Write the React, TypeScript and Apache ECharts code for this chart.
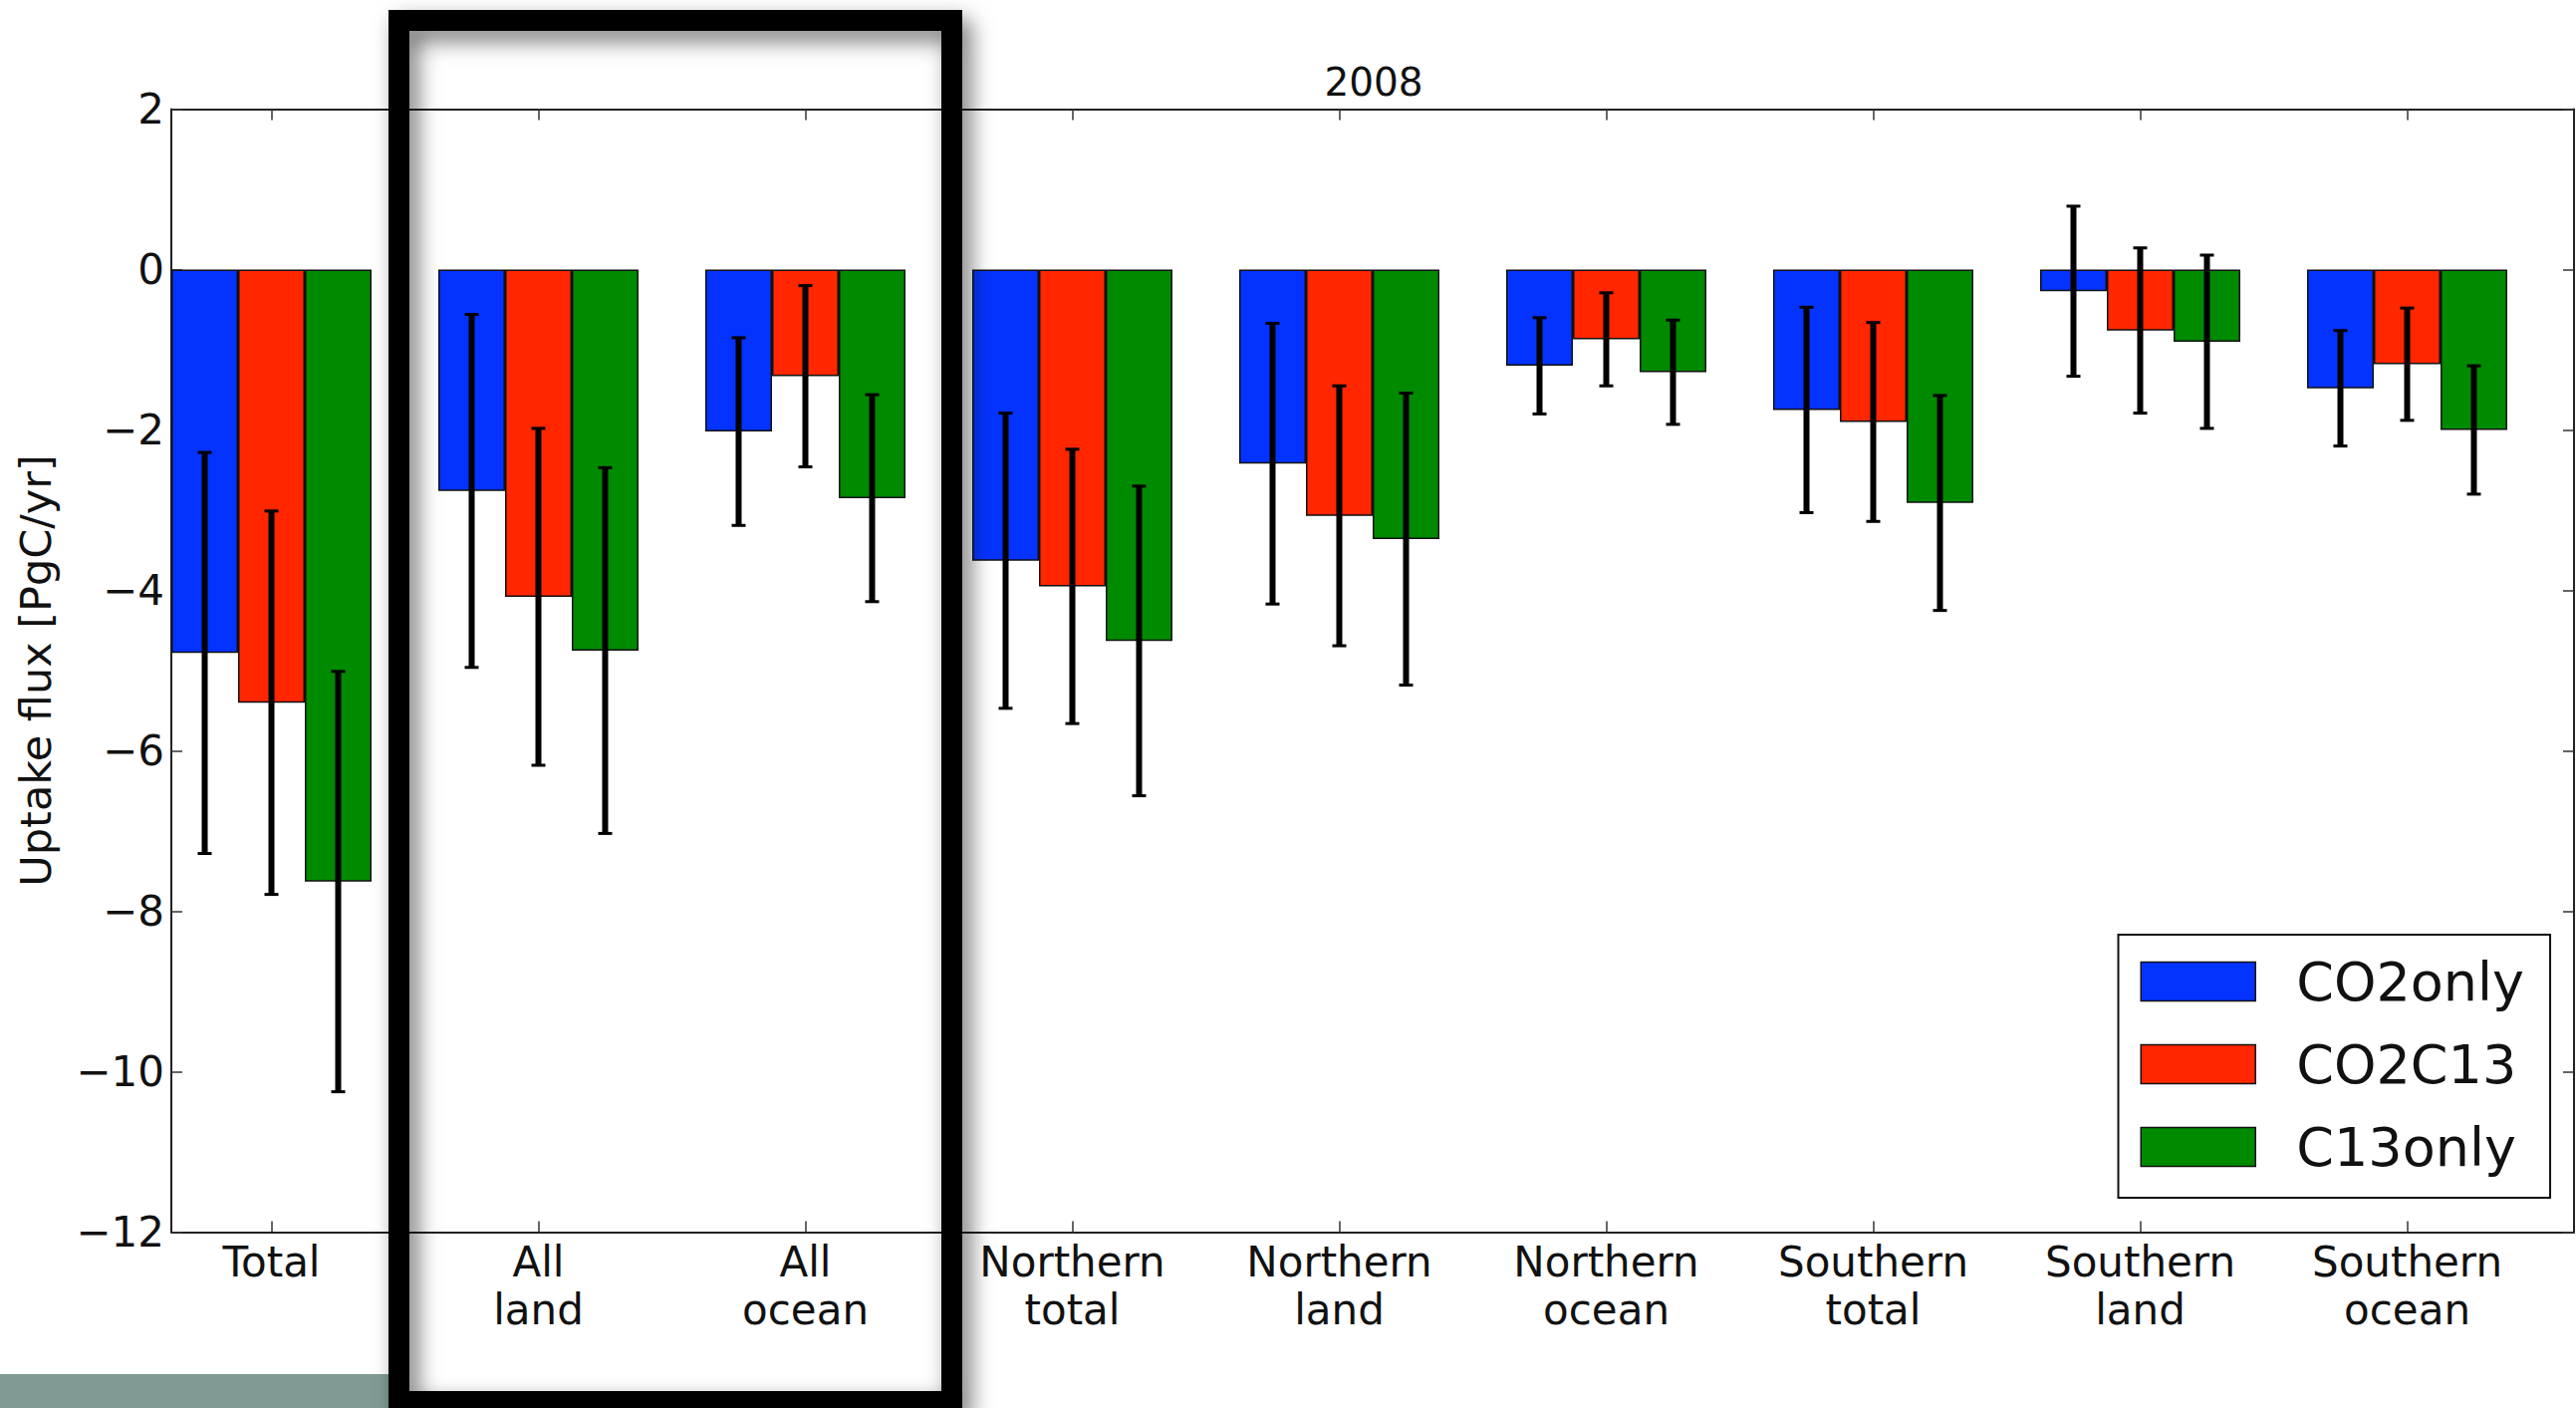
import React, { useEffect, useRef } from 'react';
import * as echarts from 'echarts';

// Regions shown along the x axis
const categories = [
  'Total',
  'All\nland',
  'All\nocean',
  'Northern\ntotal',
  'Northern\nland',
  'Northern\nocean',
  'Southern\ntotal',
  'Southern\nland',
  'Southern\nocean',
];

const seriesNames = ['CO2only', 'CO2C13', 'C13only'];
const seriesColors = ['#0433ff', '#ff2600', '#008a00'];

// Mean uptake flux [PgC/yr] per region, 2008
const co2only = [-4.78, -2.76, -2.02, -3.63, -2.42, -1.2, -1.75, -0.27, -1.48];
const co2c13 = [-5.4, -4.08, -1.33, -3.95, -3.07, -0.87, -1.9, -0.76, -1.18];
const c13only = [-7.63, -4.75, -2.85, -4.63, -3.36, -1.28, -2.91, -0.9, -2.0];

// One-sigma uncertainty per region
const co2onlyErr = [2.5, 2.2, 1.17, 1.84, 1.75, 0.6, 1.28, 1.06, 0.72];
const co2c13Err = [2.39, 2.1, 1.13, 1.71, 1.62, 0.58, 1.24, 1.03, 0.7];
const c13onlyErr = [2.62, 2.28, 1.29, 1.93, 1.82, 0.65, 1.34, 1.08, 0.8];

// y axis range and tick step
const yMin = -12;
const yMax = 2;
const yStep = 2;

const chartTitle = '2008';
const yAxisTitle = 'Uptake flux [PgC/yr]';

const FONT = '"DejaVu Sans", "Liberation Sans", sans-serif';
// each region gets four slots: three bars and one gap
const SLOTS = 4;

export default function App() {
  const ref = useRef<HTMLDivElement>(null);

  useEffect(() => {
    if (!ref.current) return;
    const chart = echarts.init(ref.current, null, { renderer: 'svg' });

    const slotCount = categories.length * SLOTS;
    const slotIds = Array.from({ length: slotCount }, (_, k) => 's' + k);
    const slotLabel = (k: number) => (k % SLOTS === 1 ? categories[(k - 1) / SLOTS] : '');
    const showSlot = (k: number) => k % SLOTS === 1;

    const values = [co2only, co2c13, c13only];
    const errors = [co2onlyErr, co2c13Err, c13onlyErr];

    const barSeries = values.map((vals, s) => ({
      name: seriesNames[s],
      type: 'bar',
      xAxisIndex: 0,
      yAxisIndex: 0,
      barWidth: '100%',
      barGap: '-100%',
      barCategoryGap: 0,
      itemStyle: { color: seriesColors[s], borderColor: '#111', borderWidth: 1.5 },
      data: slotIds.map((_, k) => (k % SLOTS === s ? vals[Math.floor(k / SLOTS)] : '-')),
      z: 2,
    }));

    const errSeries = values.map((vals, s) => ({
      type: 'custom',
      xAxisIndex: 0,
      yAxisIndex: 0,
      z: 5,
      encode: { x: 0, y: [1, 2] },
      data: vals.map((v, i) => [i * SLOTS + s, v - errors[s][i], v + errors[s][i]]),
      renderItem: (_params: any, api: any) => {
        const x = api.value(0);
        const lo = api.coord([x, api.value(1)]);
        const hi = api.coord([x, api.value(2)]);
        const cx = lo[0];
        const cap = 7;
        return {
          type: 'group',
          children: [
            {
              type: 'line',
              shape: { x1: cx, y1: hi[1], x2: cx, y2: lo[1] },
              style: { stroke: '#000', lineWidth: 6 },
            },
            {
              type: 'line',
              shape: { x1: cx - cap, y1: hi[1], x2: cx + cap, y2: hi[1] },
              style: { stroke: '#000', lineWidth: 3 },
            },
            {
              type: 'line',
              shape: { x1: cx - cap, y1: lo[1], x2: cx + cap, y2: lo[1] },
              style: { stroke: '#000', lineWidth: 3 },
            },
          ],
        };
      },
    }));

    const frameLine = { show: true, onZero: false, lineStyle: { color: '#222', width: 2 } };
    const tickStyle = { show: true, inside: true, length: 11, lineStyle: { color: '#333', width: 1.5 } };

    chart.setOption({
      animation: false,
      backgroundColor: '#ffffff',
      grid: { left: 172, right: 2, top: 109.5, bottom: 176.5, containLabel: false },
      legend: {
        data: seriesNames,
        orient: 'vertical',
        left: 2126.5,
        top: 938,
        padding: [17, 26, 21, 22],
        itemGap: 23,
        itemWidth: 115,
        itemHeight: 39,
        icon: 'rect',
        selectedMode: false,
        backgroundColor: '#fff',
        borderColor: '#111',
        borderWidth: 2,
        borderRadius: 0,
        itemStyle: { borderColor: '#111', borderWidth: 1.5 },
        textStyle: {
          fontFamily: FONT,
          fontSize: 54,
          lineHeight: 60,
          color: '#111',
          padding: [0, 0, 0, 36],
        },
      },
      xAxis: [
        {
          type: 'category',
          position: 'bottom',
          data: slotIds,
          boundaryGap: true,
          axisLine: frameLine,
          axisTick: { ...tickStyle, alignWithLabel: true, interval: (k: number) => showSlot(k) },
          axisLabel: {
            interval: (k: number) => showSlot(k),
            formatter: (_v: string, k: number) => slotLabel(k),
            fontFamily: FONT,
            fontSize: 42,
            lineHeight: 48,
            color: '#111',
            margin: 6,
          },
          splitLine: { show: false },
        },
        {
          type: 'category',
          position: 'top',
          data: slotIds,
          boundaryGap: true,
          axisLine: frameLine,
          axisTick: { ...tickStyle, alignWithLabel: true, interval: (k: number) => showSlot(k) },
          axisLabel: { show: false },
          splitLine: { show: false },
        },
      ],
      yAxis: [
        {
          type: 'value',
          position: 'left',
          min: yMin,
          max: yMax,
          interval: yStep,
          axisLine: frameLine,
          axisTick: tickStyle,
          axisLabel: {
            formatter: (v: number) => String(v).replace('-', '\u2212'),
            fontFamily: FONT,
            fontSize: 42,
            color: '#111',
            margin: 7,
          },
          splitLine: { show: false },
        },
        {
          type: 'value',
          position: 'right',
          min: yMin,
          max: yMax,
          interval: yStep,
          axisLine: frameLine,
          axisTick: tickStyle,
          axisLabel: { show: false },
          splitLine: { show: false },
        },
      ],
      series: [...barSeries, ...errSeries],
      graphic: [
        {
          type: 'text',
          x: 1379,
          y: 82.5,
          z: 10,
          style: {
            text: chartTitle,
            fontFamily: FONT,
            fontSize: 39,
            fill: '#111',
            align: 'center',
            verticalAlign: 'middle',
          },
        },
        {
          type: 'text',
          x: 36,
          y: 673,
          rotation: Math.PI / 2,
          z: 10,
          style: {
            text: yAxisTitle,
            fontFamily: FONT,
            fontSize: 43,
            fill: '#111',
            align: 'center',
            verticalAlign: 'middle',
          },
        },
        // strip of the slide background in the lower-left corner
        {
          type: 'rect',
          z: 20,
          shape: { x: 0, y: 1379, width: 392, height: 40 },
          style: { fill: '#7f9b94' },
        },
        // highlight frame around the land/ocean totals
        {
          type: 'rect',
          z: 30,
          shape: { x: 400.5, y: 20.5, width: 555, height: 1386 },
          style: {
            fill: 'none',
            stroke: '#000',
            lineWidth: 21,
            shadowBlur: 22,
            shadowOffsetX: 8,
            shadowOffsetY: 10,
            shadowColor: 'rgba(0,0,0,0.55)',
          },
        },
      ],
    });

    return () => {
      chart.dispose();
    };
  }, []);

  return (
    <div
      ref={ref}
      style={{ position: 'fixed', left: 0, top: 0, width: 2586, height: 1413, background: '#fff' }}
    />
  );
}
